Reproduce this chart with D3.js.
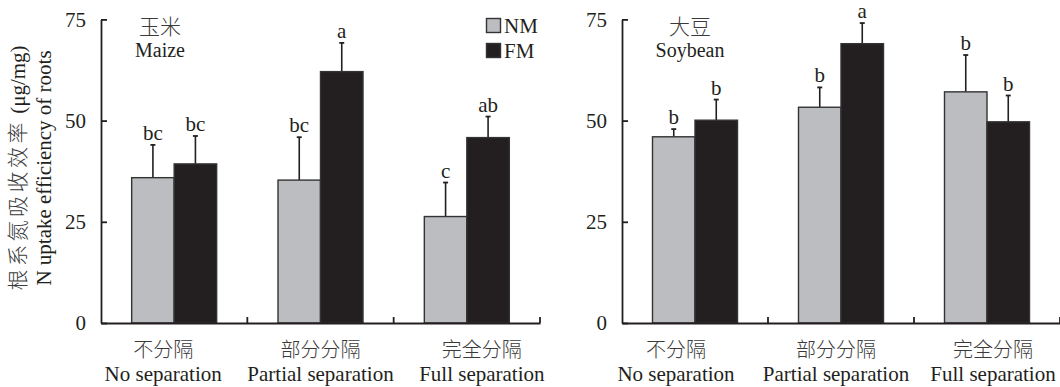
<!DOCTYPE html>
<html><head><meta charset="utf-8">
<script src="https://cdn.jsdelivr.net/npm/d3@7"></script>
</head>
<body style="margin:0;background:#fff"><svg id="c" width="1060" height="387"></svg>
<script>
const categoriesZh = ["不分隔","部分分隔","完全分隔"];
const categoriesEn = ["No separation","Partial separation","Full separation"];
const seriesNames = ["NM","FM"];
const yTicks = [0,25,50,75];

const maizeNM = [35.9, 35.3, 26.3];
const maizeFM = [39.3, 62.1, 45.8];
const maizeNMErr = [8.1, 10.6, 8.4];
const maizeFMErr = [6.9, 7.1, 5.2];
const maizeNMLetters = ["bc","bc","c"];
const maizeFMLetters = ["bc","a","ab"];

const soyNM = [46.0, 53.3, 57.1];
const soyFM = [50.1, 69.0, 49.7];
const soyNMErr = [1.9, 4.9, 9.1];
const soyFMErr = [5.1, 5.1, 6.5];
const soyNMLetters = ["b","b","b"];
const soyFMLetters = ["b","a","b"];

const SERIF = "Liberation Serif";
const CJK = "Noto Sans CJK SC";
const INK = "#231f20";
const svg = d3.select("#c");
const fills = ["#bcbdc0","#231f20"];
const y = d3.scaleLinear().domain([0,75]).range([323,19.4]);

function serifText(sel, size){
  return sel.style("font-family",SERIF).style("font-size",size+"px").style("fill",INK);
}
function cjkText(sel, size){
  return sel.style("font-family",CJK).style("font-size",size+"px").style("font-weight","300").style("fill","#3a3a3a");
}

function panel(x0, x1, nm, fm, nmE, fmE, nmL, fmL, titleZh, titleEn, titleX, showLegend, labelShift){
  const g = svg.append("g");
  const x = d3.scaleBand().domain(categoriesEn).range([x0,x1]).padding(0);
  const bw = 42.5;
  const series = [
    {vals:nm, err:nmE, lab:nmL, off:-bw, fill:fills[0]},
    {vals:fm, err:fmE, lab:fmL, off:0, fill:fills[1]}
  ];
  series.forEach(s=>{
    categoriesEn.forEach((c,i)=>{
      const cx = x(c)+x.bandwidth()/2;
      const bx = cx + s.off;
      const top = y(s.vals[i]);
      const et = y(s.vals[i]+s.err[i]);
      const ex = bx+bw/2;
      g.append("line").attr("x1",ex).attr("x2",ex).attr("y1",top).attr("y2",et)
        .attr("stroke",INK).attr("stroke-width",1.6);
      g.append("line").attr("x1",ex-2.5).attr("x2",ex+2.5).attr("y1",et).attr("y2",et)
        .attr("stroke",INK).attr("stroke-width",1.8);
      g.append("rect").attr("x",bx).attr("y",top).attr("width",bw).attr("height",y(0)-top)
        .attr("fill",s.fill).attr("stroke","#333").attr("stroke-width",1.4);
      serifText(g.append("text").attr("x",ex).attr("y",et-5).attr("text-anchor","middle"),21).text(s.lab[i]);
    });
  });
  // y axis
  const ya = d3.axisLeft(y).tickValues(yTicks).tickSize(-6).tickPadding(15).tickSizeOuter(0);
  const yg = g.append("g").attr("transform",`translate(${x0},0)`).call(ya);
  yg.select(".domain").attr("stroke",INK).attr("stroke-width",1.8);
  yg.selectAll(".tick line").attr("stroke",INK).attr("stroke-width",1.8);
  serifText(yg.selectAll(".tick text"),21);
  // x axis
  const xa = d3.axisBottom(x).tickSize(0).tickFormat("").tickSizeOuter(0);
  const xg = g.append("g").attr("transform",`translate(0,${y(0)})`).call(xa);
  xg.select(".domain").attr("stroke",INK).attr("stroke-width",1.8);
  const sep = [x0 + x.bandwidth(), x0 + 2*x.bandwidth(), x1];
  sep.forEach(sx=>{
    g.append("line").attr("x1",sx).attr("x2",sx).attr("y1",y(0)).attr("y2",y(0)-6)
      .attr("stroke",INK).attr("stroke-width",1.8);
  });
  categoriesEn.forEach((c,i)=>{
    const cx = x(c)+x.bandwidth()/2 + labelShift[i];
    cjkText(g.append("text").attr("x",cx).attr("y",357).attr("text-anchor","middle"),20).text(categoriesZh[i]);
    serifText(g.append("text").attr("x",cx).attr("y",381).attr("text-anchor","middle"),21).text(c);
  });
  cjkText(g.append("text").attr("x",titleX).attr("y",34).attr("text-anchor","middle"),21).text(titleZh);
  serifText(g.append("text").attr("x",titleX).attr("y",57).attr("text-anchor","middle"),20).text(titleEn);
  if(showLegend){
    seriesNames.forEach((n,i)=>{
      g.append("rect").attr("x",486.5).attr("y",18.5+i*25).attr("width",14).attr("height",14)
        .attr("fill",fills[i]).attr("stroke","#333").attr("stroke-width",1.4);
      serifText(g.append("text").attr("x",504).attr("y",32.5+i*25),21).text(n);
    });
  }
}

panel(101, 540, maizeNM, maizeFM, maizeNMErr, maizeFMErr, maizeNMLetters, maizeFMLetters, "玉米", "Maize", 160, true, [-11, 0, 15]);
panel(622, 1060, soyNM, soyFM, soyNMErr, soyFMErr, soyNMLetters, soyFMLetters, "大豆", "Soybean", 690, false, [-19, -5, 6]);

// y label
const yl = svg.append("g").attr("transform","translate(0,168) rotate(-90)");
const t1 = yl.append("text").attr("x",0).attr("y",25).attr("text-anchor","middle").style("font-size","21px").style("fill",INK);
t1.append("tspan").style("font-family",CJK).style("font-weight","300").style("fill","#3a3a3a")
  .style("letter-spacing","3.5px").text("根系氮吸收效率");
t1.append("tspan").style("font-family",SERIF).text(" (μg/mg)");
serifText(yl.append("text").attr("x",0).attr("y",51).attr("text-anchor","middle"),21)
  .text("N uptake efficiency of roots");
</script></body></html>
